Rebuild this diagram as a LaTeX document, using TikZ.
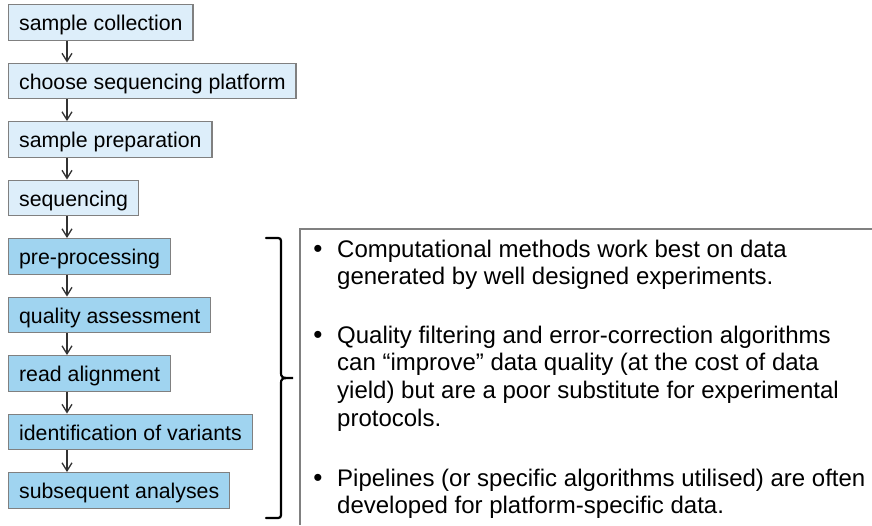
\documentclass[tikz,border=0pt]{standalone}
\usepackage{fontspec}
\setmainfont{Liberation Sans}
\usetikzlibrary{arrows.meta}

\definecolor{lightstep}{RGB}{221,238,250}
\definecolor{darkstep}{RGB}{160,212,240}
\definecolor{edgegray}{RGB}{128,128,128}
\definecolor{arrowgray}{RGB}{50,50,50}

\tikzset{
  stepbox/.style={draw=edgegray, line width=1.3pt, anchor=north west,
    minimum height=35.5pt, inner xsep=10.5pt, inner ysep=0pt,
    text height=17pt, text depth=0pt,
    font=\fontsize{21.3}{25}\selectfont},
  prestep/.style={stepbox, fill=lightstep},
  corestep/.style={stepbox, fill=darkstep},
  flow/.style={draw=arrowgray, line width=1.3pt,
    -{Straight Barb[length=8pt,width=10pt,line width=1.3pt]}},
  noteline/.style={anchor=base west, inner sep=0pt,
    font=\fontsize{24}{27.7}\selectfont},
  dot/.style={anchor=base, inner sep=0pt, font=\fontsize{26}{28}\selectfont},
  frame/.style={draw=edgegray, line width=1.4pt},
  bracepath/.style={draw=black, line width=2.2pt, line cap=round}
}

\begin{document}
\begin{tikzpicture}[x=1pt,y=-1pt]
\useasboundingbox (0,0) rectangle (872,525);

% workflow steps
\node[prestep]  (s1) at (8,4)     {sample collection};
\node[prestep]  (s2) at (8,62.5)  {choose sequencing platform};
\node[prestep]  (s3) at (8,121)   {sample preparation};
\node[prestep]  (s4) at (8,179.5) {sequencing};
\node[corestep] (s5) at (8,238)   {pre-processing};
\node[corestep] (s6) at (8,296.5) {quality assessment};
\node[corestep] (s7) at (8,355)   {read alignment};
\node[corestep] (s8) at (8,413.5) {identification of variants};
\node[corestep] (s9) at (8,472)   {subsequent analyses};

% arrows run down a common vertical line
\coordinate (spine) at (67,0);
\foreach \a/\b in {s1/s2,s2/s3,s3/s4,s4/s5,s5/s6,s6/s7,s7/s8,s8/s9}
  \draw[flow] (\a.south -| spine) -- (\b.north -| spine);

% brace grouping the computational steps
\draw[bracepath] (266,238) -- (275,238)
  .. controls (281,238) .. (281,244) -- (281,371)
  .. controls (281,378) .. (293,378)
  .. controls (281,378) .. (281,385) -- (281,512)
  .. controls (281,518) .. (275,518) -- (266,518);

% notes panel
\draw[frame] (872,229) -- (300,229) -- (300,525);

\node[dot] (d1) at (318,257) {•};
\node[noteline] (t1a) at (337,257) {Computational methods work best on data};
\node[noteline] (t1b) at (337,284.5) {generated by well designed experiments.};

\node[dot] (d2) at (318,343) {•};
\node[noteline] (t2a) at (337,343) {Quality filtering and error-correction algorithms};
\node[noteline] (t2b) at (337,370.7) {can “improve” data quality (at the cost of data};
\node[noteline] (t2c) at (337,398.4) {yield) but are a poor substitute for experimental};
\node[noteline] (t2d) at (337,426) {protocols.};

\node[dot] (d3) at (318,486) {•};
\node[noteline] (t3a) at (337,486) {Pipelines (or specific algorithms utilised) are often};
\node[noteline] (t3b) at (337,513.5) {developed for platform-specific data.};
\end{tikzpicture}
\end{document}
